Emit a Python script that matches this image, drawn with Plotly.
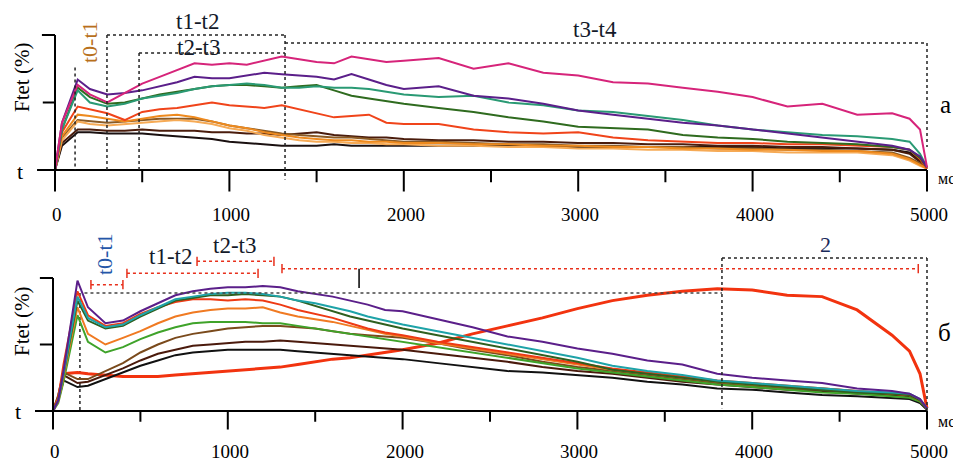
import plotly.graph_objects as go

# ---------------- data ----------------
T_A = [0, 40, 130, 200, 300, 400, 500, 600, 700, 800, 900, 1000, 1100, 1200, 1300, 1400, 1500,
       1600, 1700, 1800, 1900, 2000, 2200, 2400, 2600, 2800, 3000, 3200, 3400, 3600, 3800, 4000,
       4200, 4400, 4600, 4800, 4900, 4960, 5000]

a_magenta = [0, 35, 63, 56, 50, 57, 64, 69, 74, 79, 78, 79, 78, 81, 84, 82, 80, 79, 84, 82, 80, 81,
             83, 75, 79, 72, 70, 65, 64, 61, 58, 54, 47, 49, 41, 42, 38, 30, 2]
a_purple = [0, 35, 67, 60, 56, 57, 59, 62, 65, 69, 68, 68, 70, 72, 71, 70, 69, 67, 71, 67, 63, 60,
            62, 55, 53, 49, 44, 41, 38, 35, 33, 30, 27, 24, 21, 18, 15, 10, 2]
a_teal = [0, 30, 59, 50, 47, 49, 53, 55, 57, 60, 62, 63, 64, 63, 61, 61, 62, 61, 61, 60, 58, 56,
          54, 55, 50, 48, 44, 43, 40, 37, 33, 30, 28, 26, 25, 23, 21, 12, 2]
a_dgreen = [0, 30, 61, 54, 49, 50, 53, 56, 58, 60, 62, 63, 63, 62, 61, 62, 63, 59, 55, 53, 51, 49,
            46, 43, 39, 36, 32, 31, 30, 26, 24, 23, 21, 20, 19, 17, 15, 9, 2]
a_red = [0, 28, 47, 45, 42, 37, 43, 45, 46, 48, 50, 48, 47, 46, 48, 45, 42, 39, 40, 41, 35, 34,
         34, 30, 28, 27, 28, 24, 22, 21, 20, 20, 19, 19, 18, 17, 15, 8, 1]
a_orange1 = [0, 25, 41, 40, 38, 36, 38, 40, 41, 39, 36, 33, 31, 28, 26, 24, 23, 22, 22, 21, 21, 20,
             20, 19, 19, 18, 18, 17, 17, 16, 16, 15, 15, 14, 14, 12, 8, 4, 1]
a_orange2 = [0, 22, 36, 34, 33, 34, 35, 36, 37, 36, 34, 31, 29, 26, 24, 22, 21, 21, 20, 20, 19, 19,
             18, 18, 17, 17, 16, 16, 15, 15, 14, 14, 13, 13, 13, 11, 7, 3, 1]
a_brown = [0, 24, 37, 36, 35, 36, 37, 38, 38, 38, 36, 33, 31, 29, 27, 26, 25, 24, 24, 23, 22, 21,
           21, 20, 19, 19, 18, 18, 17, 17, 16, 16, 15, 15, 14, 13, 9, 5, 1]
a_dbrown = [0, 20, 30, 30, 29, 29, 30, 29, 29, 29, 28, 28, 27, 27, 26, 27, 28, 26, 25, 24, 24, 23,
            22, 22, 21, 21, 20, 20, 19, 19, 18, 18, 17, 17, 16, 15, 12, 6, 1]
a_black = [0, 18, 28, 28, 27, 27, 27, 26, 25, 24, 23, 21, 20, 19, 18, 18, 18, 19, 18, 18, 18, 18,
           18, 18, 18, 17, 17, 17, 17, 17, 17, 17, 16, 16, 16, 15, 13, 7, 1]

T_B = [0, 30, 60, 140, 200, 300, 400, 500, 600, 700, 800, 900, 1000, 1100, 1200, 1300, 1400, 1500,
       1600, 1700, 1800, 1900, 2000, 2200, 2400, 2600, 2800, 3000, 3200, 3400, 3600, 3800, 4000,
       4200, 4400, 4600, 4800, 4900, 4960, 5000]

b_purple = [0, 8, 30, 98, 78, 66, 68, 75, 81, 87, 90, 92, 93, 93, 94, 93, 90, 88, 86, 83, 80, 76,
            75, 69, 63, 56, 52, 47, 43, 38, 35, 28, 25, 23, 21, 17, 15, 13, 9, 2]
b_teal = [0, 8, 28, 86, 70, 63, 65, 72, 78, 84, 86, 88, 89, 89, 88, 86, 83, 81, 78, 75, 71, 68,
          65, 60, 55, 50, 45, 40, 34, 30, 27, 23, 21, 19, 17, 15, 14, 13, 9, 2]
b_dgreen = [0, 8, 27, 83, 68, 62, 64, 71, 77, 83, 85, 87, 87, 88, 87, 86, 83, 79, 75, 71, 68, 65,
            62, 57, 52, 47, 42, 37, 31, 28, 25, 22, 20, 18, 16, 14, 13, 12, 8, 2]
b_red = [0, 10, 35, 90, 72, 64, 66, 73, 78, 82, 84, 84, 83, 84, 83, 80, 76, 73, 70, 66, 62, 59,
         57, 52, 48, 44, 40, 36, 32, 29, 26, 23, 21, 19, 17, 15, 13, 12, 8, 2]
b_orange = [0, 7, 25, 78, 58, 50, 55, 60, 66, 71, 74, 76, 77, 77, 78, 74, 71, 69, 67, 64, 61, 58,
            56, 51, 47, 43, 39, 35, 31, 28, 25, 22, 20, 18, 17, 15, 13, 12, 8, 2]
b_green = [0, 6, 22, 72, 52, 44, 48, 54, 59, 63, 66, 67, 67, 67, 66, 66, 64, 62, 60, 58, 56, 54,
           52, 48, 44, 40, 36, 32, 29, 26, 23, 20, 18, 16, 14, 13, 11, 10, 7, 2]
b_brown = [0, 12, 29, 24, 24, 30, 36, 44, 50, 55, 58, 60, 62, 63, 64, 64, 63, 62, 60, 58, 57, 56,
           55, 51, 46, 42, 37, 33, 30, 27, 24, 21, 19, 17, 16, 14, 13, 12, 8, 2]
b_dbrown = [0, 10, 27, 21, 22, 27, 32, 38, 43, 46, 49, 50, 51, 52, 52, 53, 52, 51, 50, 49, 48, 47,
            46, 43, 40, 37, 33, 30, 28, 25, 22, 20, 18, 16, 15, 13, 12, 11, 7, 2]
b_black = [0, 8, 23, 18, 19, 24, 29, 34, 38, 42, 44, 45, 46, 46, 46, 46, 45, 44, 43, 42, 41, 40,
           39, 36, 33, 30, 29, 27, 25, 22, 20, 17, 16, 14, 12, 11, 10, 9, 6, 1]
b_red2 = [0, 10, 28, 29, 28, 27, 26, 26, 26, 27, 28, 29, 30, 31, 32, 33, 35, 37, 39, 40, 42, 44,
          46, 51, 58, 64, 70, 77, 83, 87, 90, 92, 91, 87, 86, 76, 57, 45, 28, 2]

X_TICKS = [0, 1000, 2000, 3000, 4000, 5000]
X_MINOR = [500, 1500, 2500, 3500, 4500]
X_TICK_LABELS = ["0", "1000", "2000", "3000", "4000", "5000"]

series_a = [
    ("a_black", a_black, "#1a1010", 2),
    ("a_dbrown", a_dbrown, "#4a1c0c", 2),
    ("a_brown", a_brown, "#8a5a24", 2),
    ("a_orange2", a_orange2, "#f6aa55", 2),
    ("a_orange1", a_orange1, "#ee8a1e", 2),
    ("a_red", a_red, "#f0441a", 2),
    ("a_dgreen", a_dgreen, "#2f6b1f", 2),
    ("a_teal", a_teal, "#2a9a74", 2),
    ("a_purple", a_purple, "#5b1f8a", 2),
    ("a_magenta", a_magenta, "#d6247a", 2),
]
series_b = [
    ("b_red2", b_red2, "#f2330f", 3),
    ("b_black", b_black, "#111111", 2),
    ("b_dbrown", b_dbrown, "#4a1a0c", 2),
    ("b_brown", b_brown, "#7a4a1c", 2),
    ("b_green", b_green, "#3fa32a", 2),
    ("b_orange", b_orange, "#f07a22", 2),
    ("b_red", b_red, "#ee3a14", 2),
    ("b_dgreen", b_dgreen, "#2f5f1f", 2),
    ("b_teal", b_teal, "#1ea3a8", 2),
    ("b_purple", b_purple, "#5b1f8a", 2),
]

# ---------------- figure ----------------
OX, OY = 8, 8            # page body margin of the html
W, H = 961 - OX, 461 - OY
fig = go.Figure()

for name, ys, col, w in series_a:
    fig.add_trace(go.Scatter(x=T_A, y=ys, mode="lines", name=name, xaxis="x", yaxis="y",
                             line=dict(color=col, width=w), hoverinfo="skip"))
for name, ys, col, w in series_b:
    fig.add_trace(go.Scatter(x=T_B, y=ys, mode="lines", name=name, xaxis="x2", yaxis="y2",
                             line=dict(color=col, width=w), hoverinfo="skip"))

YR = [-20, 118]
XR = [-150, 5150]
# target page pixels: panel a 0ms at px 55, 5000 at px 927 ; 0% at py 170, 100% at py 35
ax_a = dict(x0=55, x1=927, y0=170, y1=35)
ax_b = dict(x0=53, x1=927, y0=411, y1=278)


def clamp(v):
    return min(1.0, max(0.0, v))


def domains(ax):
    sx = (ax["x1"] - ax["x0"]) / 5000.0
    sy = (ax["y0"] - ax["y1"]) / 100.0
    left = ax["x0"] + XR[0] * sx - OX
    right = ax["x0"] + XR[1] * sx - OX
    bot = ax["y0"] - YR[0] * sy - OY
    top = ax["y0"] - YR[1] * sy - OY
    return [clamp(left / W), clamp(right / W)], [clamp(1 - bot / H), clamp(1 - top / H)]


dxa, dya = domains(ax_a)
dxb, dyb = domains(ax_b)
hidden = dict(showgrid=False, zeroline=False, showticklabels=False, ticks="", showline=False,
              fixedrange=True)
fig.update_layout(
    width=W, height=H, margin=dict(l=0, r=0, t=0, b=0),
    paper_bgcolor="white", plot_bgcolor="rgba(0,0,0,0)", showlegend=False,
    xaxis=dict(domain=dxa, range=XR, anchor="y", **hidden),
    yaxis=dict(domain=dya, range=YR, anchor="x", **hidden),
    xaxis2=dict(domain=dxb, range=XR, anchor="y2", **hidden),
    yaxis2=dict(domain=dyb, range=YR, anchor="x2", **hidden),
)

shapes = []


def line(xr, yr, x0, y0, x1, y1, color="black", width=2, dash="solid", layer="above"):
    shapes.append(dict(type="line", xref=xr, yref=yr, x0=x0, y0=y0, x1=x1, y1=y1,
                       line=dict(color=color, width=width, dash=dash), layer=layer))


# axes panel a
line("x", "y", -103, 0, 5000, 0)
line("x", "y", 0, -16, 0, 100)
line("x", "y", -75, 100, 0, 100)
line("x", "y", -70, 50, 0, 50)
for t in X_TICKS[1:]:
    line("x", "y", t, 0, t, -16)
for t in X_MINOR:
    line("x", "y", t, 0, t, -9)
# axes panel b
line("x2", "y2", -103, 0, 5000, 0)
line("x2", "y2", 0, -14, 0, 100)
line("x2", "y2", -75, 100, 0, 100)
line("x2", "y2", -75, 50, 0, 50)
for t in X_TICKS[1:]:
    line("x2", "y2", t, 0, t, -14)
for t in X_MINOR:
    line("x2", "y2", t, 0, t, -8)

# dotted brackets panel a
DOT = "#222222"
line("x", "y", 115, 76, 115, 0, DOT, 1.5, "dot")
line("x", "y", 298, 100, 298, 0, DOT, 1.5, "dot")
line("x", "y", 298, 100, 1319, 100, DOT, 1.5, "dot")
line("x", "y", 482, 86.7, 482, 0, DOT, 1.5, "dot")
line("x", "y", 482, 86.7, 1319, 86.7, DOT, 1.5, "dot")
line("x", "y", 1319, 100, 1319, -7, DOT, 1.5, "dot")
line("x", "y", 1319, 94, 5000, 94, DOT, 1.5, "dot")
line("x", "y", 5000, 94, 5000, 17, DOT, 1.5, "dot")

# panel b brackets
line("x2", "y2", 180, 88.7, 3827, 88.7, "#444444", 1.5, "dot")
line("x2", "y2", 154, 88.7, 154, 0, DOT, 1.5, "dot", layer="below")
line("x2", "y2", 3827, 115, 5000, 115, DOT, 1.5, "dot")
line("x2", "y2", 3827, 115, 3827, 2, DOT, 1.5, "dot")
line("x2", "y2", 5000, 115, 5000, 0, DOT, 1.5, "dot")
RED = "#e8301c"
for (t0, t1, v) in [(217, 400, 95), (423, 1173, 103.5), (824, 1264, 112.5), (1310, 4950, 107)]:
    line("x2", "y2", t0, v, t1, v, RED, 1.5, "dot")
    line("x2", "y2", t0, v - 3.5, t0, v + 3.5, RED, 1.5)
    line("x2", "y2", t1, v - 3.5, t1, v + 3.5, RED, 1.5)
line("x2", "y2", 1751, 107, 1751, 92.5, "black", 1.5)

fig.update_layout(shapes=shapes)

SERIF = "Liberation Serif, Times New Roman, serif"
anns = []


def text(px, py, s, size=19, color="black", angle=0):
    anns.append(dict(x=(px - OX) / W, y=1 - (py - OY) / H, xref="paper", yref="paper", text=s,
                     showarrow=False, xanchor="center", yanchor="middle", textangle=angle,
                     font=dict(family=SERIF, size=size, color=color)))


for t, lab in zip(X_TICKS, X_TICK_LABELS):
    text(ax_a["x0"] + t * (ax_a["x1"] - ax_a["x0"]) / 5000 + 2, 214, lab, 19)
    text(ax_b["x0"] + t * (ax_b["x1"] - ax_b["x0"]) / 5000 + 2, 451, lab, 19)

text(22, 78, "Ftet (%)", 21, angle=-90)
text(22, 322, "Ftet (%)", 21, angle=-90)
text(20, 171, "t", 22)
text(18, 411, "t", 22)
text(946, 179, "мс", 16)
text(946, 421, "мс", 16)
text(945, 105, "а", 25)
text(944, 332, "б", 25)
text(90, 42, "t0-t1", 22, "#b8701c", -90)
text(197, 21, "t1-t2", 23, "#141a2a")
text(198, 47, "t2-t3", 23, "#141a2a")
text(595, 29, "t3-t4", 23, "#141a2a")
text(104, 254, "t0-t1", 22, "#2456a8", -90)
text(170, 256, "t1-t2", 23, "#141a2a")
text(234, 245, "t2-t3", 23, "#141a2a")
text(825, 244, "2", 22, "#1a2a5a")

fig.update_layout(annotations=anns)
fig.write_html("out.html")
